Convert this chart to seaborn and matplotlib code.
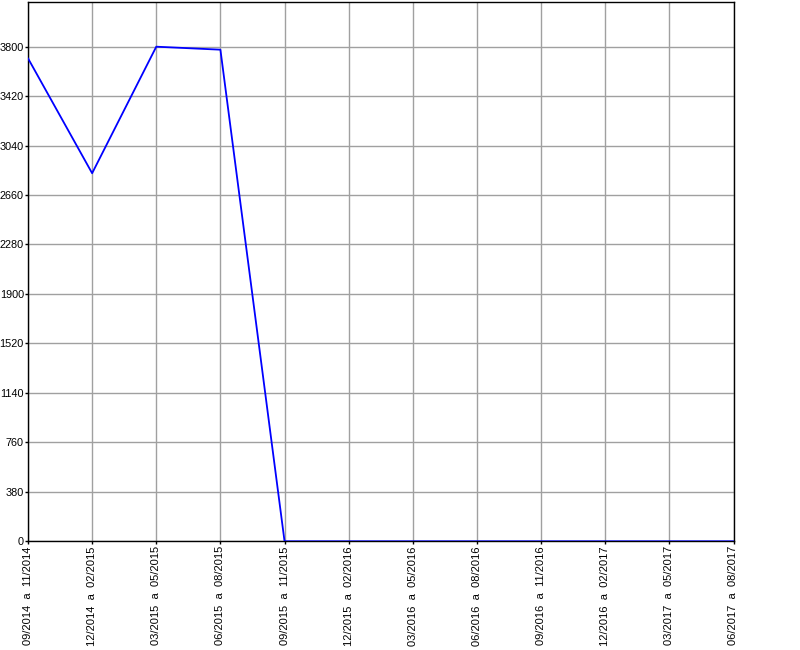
import matplotlib
matplotlib.use("Agg")
import matplotlib.pyplot as plt
import seaborn as sns
import pandas as pd

periods = ["09/2014  a  11/2014", "12/2014  a  02/2015", "03/2015  a  05/2015",
           "06/2015  a  08/2015", "09/2015  a  11/2015", "12/2015  a  02/2016",
           "03/2016  a  05/2016", "06/2016  a  08/2016", "09/2016  a  11/2016",
           "12/2016  a  02/2017", "03/2017  a  05/2017", "06/2017  a  08/2017"]
values = [3710, 2827, 3799, 3776, 0, 0, 0, 0, 0, 0, 0, 0]
yticks = [0, 380, 760, 1140, 1520, 1900, 2280, 2660, 3040, 3420, 3800]

sns.set_theme(style="white")
plt.rcParams['font.family'] = ['Liberation Sans', 'DejaVu Sans']

df = pd.DataFrame({"pos": list(range(len(periods))), "value": values})

fig = plt.figure(figsize=(8, 6.5), dpi=100)
ax = fig.add_axes([28/800, (650-541.3)/650, (733.5-28)/800, (541.3-2.3)/650])
sns.lineplot(data=df, x="pos", y="value", ax=ax, color="#0000ff", linewidth=1.3, zorder=3)

ax.set_xlim(0, len(periods) - 1)
ax.set_ylim(0, 4140)
ax.set_xticks(range(len(periods)))
ax.set_xticklabels(periods, rotation=90, fontsize=8, color="black")
ax.set_yticks(yticks)
ax.set_yticklabels([str(v) for v in yticks], fontsize=7.8, color="black")
ax.grid(True, color="#a0a0a0", linewidth=1)
ax.set_axisbelow(True)
ax.set_xlabel("")
ax.set_ylabel("")
for s in ax.spines.values():
    s.set_color("black")
    s.set_linewidth(1)
ax.tick_params(axis="both", which="both", length=2.5, width=1, color="black", direction="out")
ax.tick_params(axis="y", pad=0.5)
ax.tick_params(axis="x", pad=1)
ax.tick_params(left=True, bottom=True)

fig.savefig("out.png", dpi=100, facecolor="white")
